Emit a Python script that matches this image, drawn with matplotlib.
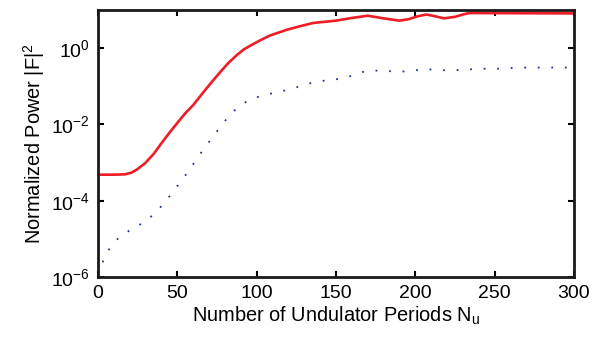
import matplotlib
matplotlib.use("Agg")
import matplotlib.pyplot as plt
from matplotlib.ticker import NullLocator

plt.rcParams['font.family'] = ['Liberation Sans', 'DejaVu Sans']
plt.rcParams['mathtext.fontset'] = 'custom'
plt.rcParams['mathtext.rm'] = 'Liberation Sans'
plt.rcParams['mathtext.it'] = 'Liberation Sans:italic'

# red solid curve: undulator period vs normalized power
red_x = [0, 10, 17, 21, 24.4, 29.6, 35, 40, 45, 50.6, 55, 60, 66, 71.5, 77,
         82, 87.4, 92, 98, 103, 108.4, 114.7, 119, 127, 135.7, 143, 150, 160,
         170, 180, 190, 196, 201, 207, 212, 218, 225, 230, 234, 300]
red_p = [4.8e-4, 4.8e-4, 4.9e-4, 5.4e-4, 6.5e-4, 9.5e-4, 1.66e-3, 3.2e-3, 6.0e-3,
         1.17e-2, 1.95e-2, 3.2e-2, 6.6e-2, 0.126, 0.234,
         0.40, 0.65, 0.93, 1.29, 1.66, 2.14, 2.63, 3.02, 3.72, 4.57, 4.90, 5.25, 6.17,
         7.08, 6.03, 5.25, 5.75, 6.76, 7.59, 6.92, 6.03, 6.61, 7.59, 8.32, 8.13]

# blue dotted curve
blue_x = [0, 4.6, 8.6, 13.9, 19.6, 26, 32, 37.6, 42, 46.7, 51, 55.4, 59.4, 63.5,
          67.8, 72.3, 76.4, 81, 85.9, 91.5, 97.8, 104.6, 111.9, 118.8, 125.6,
          132.7, 139.9, 146.6, 154, 161, 168, 175, 182, 190, 196.6, 204, 211,
          218, 225.6, 233, 240, 254.5, 261.6, 269, 300]
blue_p = [1.12e-6, 3.7e-6, 6.8e-6, 1.15e-5, 1.62e-5, 2.29e-5, 3.4e-5, 5.4e-5,
          9.3e-5, 1.55e-4, 2.75e-4, 4.8e-4, 8.3e-4, 1.48e-3,
          2.63e-3, 4.6e-3, 7.9e-3, 1.38e-2, 2.29e-2, 3.55e-2, 4.8e-2, 5.9e-2,
          6.8e-2, 7.9e-2, 9.5e-2,
          0.117, 0.135, 0.148, 0.158, 0.195, 0.245, 0.257, 0.251, 0.240, 0.251,
          0.275, 0.275, 0.263, 0.263, 0.275, 0.288, 0.288, 0.302, 0.309, 0.309]

x_ticks = [0, 50, 100, 150, 200, 250, 300]
y_ticks = [1e-6, 1e-4, 1e-2, 1e0]

fig = plt.figure(figsize=(6.01, 3.44), dpi=100)
ax = fig.add_axes([0.163, 0.195, 0.792, 0.776])

ax.plot(blue_x, blue_p, color='#1f2f9f', lw=1.3, linestyle=(0, (1.0, 6.5)))
ax.plot(red_x, red_p, color='#ee1c24', lw=1.9)

ax.set_yscale('log')
ax.set_xlim(0, 300)
ax.set_ylim(1e-6, 10)
ax.set_xticks(x_ticks)
ax.set_yticks(y_ticks)
ax.yaxis.set_minor_locator(NullLocator())

ax.tick_params(direction='in', length=4, width=1.5, labelsize=14,
               top=True, right=True, pad=6)
for s in ax.spines.values():
    s.set_linewidth(2.0)
    s.set_color('#1a1a1a')

ax.set_xlabel('Number of Undulator Periods N$_\\mathregular{u}$', fontsize=14.4, labelpad=2)
ax.set_ylabel('Normalized Power |F|$^\\mathregular{2}$', fontsize=14.4, labelpad=3)

fig.savefig('out.png', dpi=100)
